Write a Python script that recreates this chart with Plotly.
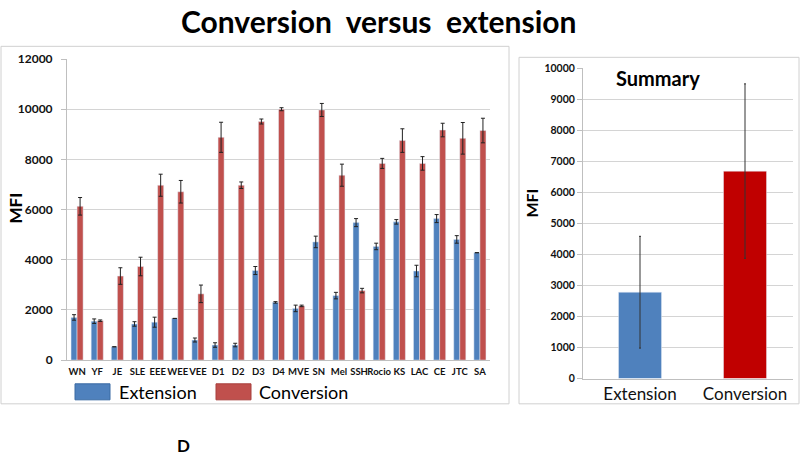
import plotly.graph_objects as go

# ---------------- data ----------------
categories = ["WN", "YF", "JE", "SLE", "EEE", "WEE", "VEE", "D1", "D2", "D3", "D4",
              "MVE", "SN", "Mel", "SSH", "Rocio", "KS", "LAC", "CE", "JTC", "SA"]
extension = [1700, 1550, 530, 1440, 1510, 1660, 800, 600, 600, 3570, 2300,
             2060, 4710, 2570, 5480, 4530, 5510, 3550, 5640, 4810, 4280]
extension_err = [110, 90, 0, 90, 200, 0, 80, 90, 70, 160, 30,
                 130, 230, 130, 160, 130, 90, 230, 160, 150, 0]
conversion = [6130, 1570, 3350, 3730, 6970, 6710, 2640, 8880, 6970, 9510, 10000,
              2160, 9970, 7370, 2770, 7840, 8750, 7840, 9170, 8840, 9150]
conversion_err = [350, 30, 330, 370, 440, 450, 350, 600, 130, 100, 60,
                  30, 260, 440, 90, 200, 470, 270, 270, 630, 490]

summary_categories = ["Extension", "Conversion"]
summary_values = [2780, 6680]
summary_err = [1800, 2810]

left_ticks = [0, 2000, 4000, 6000, 8000, 10000, 12000]
right_ticks = [0, 1000, 2000, 3000, 4000, 5000, 6000, 7000, 8000, 9000, 10000]

# ---------------- styling ----------------
W, H = 800, 460
FONT = "Lato"
BLUE = "#4F81BD"
RED = "#C0504D"
DARKRED = "#C00000"
GRID = "#d4d4d4"
BOX = "#d0d0d0"


def px(x):
    return x / W


def py(y):
    # target pixel row -> paper fraction (compensates the page's vertical fit)
    yi = y / 0.966 - 8
    return 1 - yi / H


fig = go.Figure()

fig.add_trace(go.Bar(
    x=categories, y=extension, name="Extension", marker_color=BLUE,
    error_y=dict(type="data", array=extension_err, color="#222222", thickness=1, width=2),
    xaxis="x", yaxis="y", showlegend=False))
fig.add_trace(go.Bar(
    x=categories, y=conversion, name="Conversion", marker_color=RED,
    error_y=dict(type="data", array=conversion_err, color="#222222", thickness=1, width=2),
    xaxis="x", yaxis="y", showlegend=False))

fig.add_trace(go.Bar(
    x=summary_categories, y=summary_values, marker_color=[BLUE, DARKRED], width=0.41,
    error_y=dict(type="data", array=summary_err, color="#333333", thickness=1, width=1),
    xaxis="x2", yaxis="y2", showlegend=False))

shapes = [
    dict(type="rect", xref="paper", yref="paper", x0=px(1), x1=px(509), y0=py(403), y1=py(46),
         line=dict(color=BOX, width=1), layer="below"),
    dict(type="rect", xref="paper", yref="paper", x0=px(519), x1=px(799), y0=py(403), y1=py(57),
         line=dict(color=BOX, width=1), layer="below"),
    # legend swatches
    dict(type="rect", xref="paper", yref="paper", x0=px(75), x1=px(110), y0=py(399), y1=py(383),
         fillcolor=BLUE, line=dict(color="#3a6aa3", width=1)),
    dict(type="rect", xref="paper", yref="paper", x0=px(216), x1=px(251), y0=py(399), y1=py(383),
         fillcolor=RED, line=dict(color="#a83f3c", width=1)),
]

annotations = [
    dict(text="<b>Conversion  versus  extension</b>", x=px(378), y=py(21), xref="paper", yref="paper",
         showarrow=False, font=dict(family=FONT, size=30, color="#000000"), xanchor="center", yanchor="middle"),
    dict(text="<b>MFI</b>", x=px(16), y=py(208), xref="paper", yref="paper", textangle=-90,
         showarrow=False, font=dict(family=FONT, size=17, color="#000000"), xanchor="center", yanchor="middle"),
    dict(text="<b>MFI</b>", x=px(532), y=py(203), xref="paper", yref="paper", textangle=-90,
         showarrow=False, font=dict(family=FONT, size=16, color="#000000"), xanchor="center", yanchor="middle"),
    dict(text="<b>Summary</b>", x=px(614), y=py(78), xref="paper", yref="paper",
         showarrow=False, font=dict(family=FONT, size=20, color="#000000"), xanchor="left", yanchor="middle"),
    dict(text="Extension", x=px(117), y=py(391), xref="paper", yref="paper",
         showarrow=False, font=dict(family=FONT, size=18, color="#000000"), xanchor="left", yanchor="middle"),
    dict(text="Conversion", x=px(257), y=py(391), xref="paper", yref="paper",
         showarrow=False, font=dict(family=FONT, size=18, color="#000000"), xanchor="left", yanchor="middle"),
    dict(text="<b>D</b>", x=px(183), y=py(445), xref="paper", yref="paper",
         showarrow=False, font=dict(family=FONT, size=17, color="#000000"), xanchor="center", yanchor="middle"),
]

fig.update_layout(
    width=W, height=H,
    margin=dict(l=0, r=0, t=0, b=0),
    paper_bgcolor="white", plot_bgcolor="white",
    barmode="group", bargap=0.4, bargroupgap=0.0,
    font=dict(family=FONT, color="#000000"),
    xaxis=dict(domain=[px(67), px(490)], anchor="y", type="category", tickangle=0,
               showline=True, linecolor="#bfbfbf", linewidth=1, ticks="", ticklabelstandoff=3,
               tickfont=dict(family=FONT, size=9.5, color="#111111", weight="bold"),
               showgrid=False),
    yaxis=dict(domain=[py(359.3), py(58.7)], anchor="x", range=[0, 12000],
               tickvals=left_ticks, ticktext=[str(v) for v in left_ticks],
               showline=True, linecolor="#bfbfbf", linewidth=1, ticks="outside", ticklen=5,
               tickcolor="#bfbfbf", showgrid=True, gridcolor=GRID, gridwidth=1, ticklabelstandoff=6,
               tickfont=dict(family=FONT, size=12, color="#111111", weight="bold"), zeroline=False),
    xaxis2=dict(domain=[px(583), px(793)], anchor="y2", type="category", tickangle=0,
                range=[-0.543, 1.457],
                showline=True, linecolor="#bfbfbf", linewidth=1, ticks="",
                tickfont=dict(family=FONT, size=17, color="#111111"), showgrid=False),
    yaxis2=dict(domain=[py(377.7), py(67.7)], anchor="x2", range=[0, 10000],
                tickvals=right_ticks, ticktext=[str(v) for v in right_ticks],
                showline=True, linecolor="#bfbfbf", linewidth=1, ticks="outside", ticklen=5,
                tickcolor="#bfbfbf", showgrid=True, gridcolor=GRID, gridwidth=1,
                tickfont=dict(family=FONT, size=10.5, color="#111111", weight="bold"), zeroline=False),
    shapes=shapes,
    annotations=annotations,
    showlegend=False,
)

page_fix = (
    "document.documentElement.style.margin='0';"
    "document.body.style.margin='0';"
    "document.body.style.padding='0';"
    "document.querySelectorAll('.main-svg').forEach(function(s){s.style.overflow='visible';});"
)

fig.write_html("out.html", config={"displayModeBar": False}, post_script=page_fix)
